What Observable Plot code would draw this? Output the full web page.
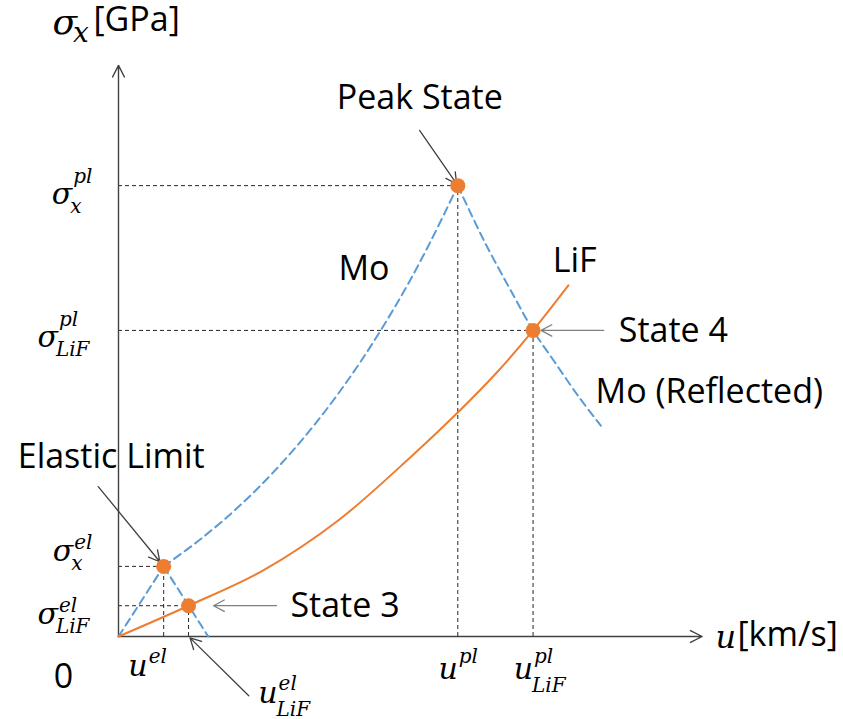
<!DOCTYPE html>
<html>
<head>
<meta charset="utf-8">
<script src="https://cdn.jsdelivr.net/npm/d3@7"></script>
<script src="https://cdn.jsdelivr.net/npm/@observablehq/plot@0.6"></script>
<style>
  body { margin: 0; background: #fff; }
  #chart svg { display: block; overflow: visible; }
</style>
</head>
<body>
<div id="chart"></div>
<script>
// Impedance matching of a Mo sample against a LiF window in the (u, σx) plane.
// Units are schematic: both axes run 0–10.

// Mo Hugoniot: elastic ramp, then plastic branch up to the peak state
const moElasticU = [0, 0.78];
const moElasticS = [0, 1.23];
const moLoadU = [0.78, 1.42, 2.11, 2.80, 3.49, 4.18, 4.87, 5.39, 5.86];
const moLoadS = [1.23, 1.71, 2.31, 3.02, 3.85, 4.82, 5.95, 6.93, 7.91];
// Release from the elastic limit
const moReleaseU = [0.78, 1.55];
const moReleaseS = [1.23, 0];
// Mo curve reflected about the peak state
const moReflectedU = [5.86, 6.32, 6.84, 7.16, 7.53, 7.96, 8.33];
const moReflectedS = [7.91, 6.93, 5.95, 5.37, 4.82, 4.19, 3.70];
// LiF Hugoniot
const lifU = [0, 1.21, 2.50, 3.80, 5.09, 5.86, 6.55, 7.16, 7.77];
const lifS = [0, 0.54, 1.16, 2.04, 3.19, 3.93, 4.65, 5.37, 6.16];

// Marked states
const stateNames = ["Elastic Limit", "State 3", "Peak State", "State 4"];
const stateU = [0.78, 1.21, 5.86, 7.16];
const stateS = [1.23, 0.54, 7.91, 5.37];

// Tick labels at each state (σ on the vertical axis, u on the horizontal axis)
const sigmaSup = ["el", "el", "pl", "pl"];
const sigmaSub = ["x", "LiF", "x", "LiF"];
const uSup = ["el", "el", "pl", "pl"];
const uSub = ["", "LiF", "", "LiF"];

// Free text labels
const labelText = ["Peak State", "Mo", "LiF", "State 4", "Mo (Reflected)", "Elastic Limit", "State 3", "0"];
const labelU = [3.77, 3.80, 7.50, 8.64, 8.24, -1.74, 2.97, -1.12];
const labelS = [9.26, 6.26, 6.39, 5.16, 4.09, 2.95, 0.35, -0.91];

// Callout arrows: start point of each arrow, pointing at the matching state
const calloutU = [-0.35, 2.73, 5.20, 8.38];
const calloutS = [2.63, 0.54, 8.88, 5.37];

// ---------------------------------------------------------------------------
const W = 843, H = 719;
const M = {top: 66, right: 146, bottom: 83, left: 118};
const BLUE = "#5B9BD5", ORANGE = "#ED7D31", AXIS = "#404040";
const SANS = "Open Sans", MATH = "DejaVu Serif";

const xs = Plot.scale({x: {domain: [0, 10], range: [M.left, W - M.right]}});
const ys = Plot.scale({y: {domain: [0, 10], range: [H - M.bottom, M.top]}});

const pts = (U, S) => U.map((u, i) => ({u, s: S[i]}));
const states = stateNames.map((name, i) => ({name, u: stateU[i], s: stateS[i]}));

// text measurement for composing sub/superscripts
const ctx = document.createElement("canvas").getContext("2d");
function measure(str, size, style = "italic") {
  ctx.font = `${style} ${size}px "${MATH}"`;
  return ctx.measureText(str).width;
}

// Lay out base + superscript + subscript as three text records (in data units)
function composeMath(items, o) {
  const base = [], sup = [], sub = [];
  for (const it of items) {
    const wb = measure(it.base, o.baseSize);
    const wsup = it.sup ? measure(it.sup, o.scriptSize) : 0;
    const wsub = it.sub ? measure(it.sub, o.scriptSize) : 0;
    const total = wb + Math.max(wsup, wsub);
    const x0 = it.align === "end" ? it.px - total
             : it.align === "baseEnd" ? it.px - wb
             : it.px;
    const xScript = x0 + wb + o.gap;
    base.push({x: xs.invert(x0), y: ys.invert(it.py), text: it.base});
    if (it.sup) {
      const rise = /[pqgyj]/.test(it.sup) ? o.riseDesc : o.rise;
      sup.push({x: xs.invert(xScript), y: ys.invert(it.py - rise), text: it.sup});
    }
    if (it.sub) sub.push({x: xs.invert(xScript - o.subKern), y: ys.invert(it.py + o.drop), text: it.sub});
  }
  const t = {x: "x", y: "y", text: "text", textAnchor: "start", lineAnchor: "bottom",
             fontFamily: MATH, fontStyle: "italic", fill: "#000"};
  return [
    Plot.text(base, {...t, fontSize: o.baseSize}),
    Plot.text(sup, {...t, fontSize: o.scriptSize}),
    Plot.text(sub, {...t, fontSize: o.scriptSize})
  ];
}

// σ tick labels, right-aligned left of the axis
const sigmaNudge = [-5, 18, 18, 17];
const sigmaItems = states.map((d, i) => ({
  px: xs.apply(0) - 27, py: ys.apply(d.s) + sigmaNudge[i],
  base: "σ", sup: sigmaSup[i], sub: sigmaSub[i], align: "end"
}));

// u tick labels under the axis
const uNudgeX = [-16, 89, 0, 0];
const uNudgeY = [39, 66, 42, 42];
const uItems = states.map((d, i) => ({
  px: xs.apply(d.u) + uNudgeX[i], py: ys.apply(0) + uNudgeY[i],
  base: "u", sup: uSup[i], sub: uSub[i], align: "baseEnd"
}));

// axis titles
const titleItems = [{px: 52, py: 33, base: "σ", sub: "x", align: "start"}];
const uTitleItems = [{px: 715, py: 647, base: "u", align: "start"}];

const callouts = states.map((d, i) => ({x1: calloutU[i], y1: calloutS[i], x2: d.u, y2: d.s}));
const calloutInset = [6, 25, 2, 8];
const calloutColor = [AXIS, "#7F7F7F", AXIS, "#7F7F7F"];

const axes = [{x1: 0, y1: 0, x2: 10.08, y2: 0}, {x1: 0, y1: 0, x2: 0, y2: 10.02}];
const labels = labelText.map((text, i) => ({text, u: labelU[i], s: labelS[i]}));
const axisWords = [
  {text: "[GPa]", x: xs.invert(93), y: ys.invert(30)},
  {text: "[km/s]", x: xs.invert(737), y: ys.invert(645)}
];

const dashBlue = {x: "u", y: "s", stroke: BLUE, strokeWidth: 2, strokeDasharray: "8,5"};

const chart = Plot.plot({
  width: W, height: H,
  marginTop: M.top, marginRight: M.right, marginBottom: M.bottom, marginLeft: M.left,
  x: {domain: [0, 10], axis: null},
  y: {domain: [0, 10], axis: null},
  style: {background: "#fff", overflow: "visible"},
  marks: [
    // guide lines from each state to the axes
    Plot.ruleY(states, {y: "s", x1: () => 0, x2: "u", stroke: "#262626", strokeWidth: 1, strokeDasharray: "4,3"}),
    Plot.ruleX(states, {x: "u", y1: () => 0, y2: "s", stroke: "#262626", strokeWidth: 1, strokeDasharray: "4,3"}),
    // axes with open arrowheads
    Plot.arrow(axes, {x1: "x1", y1: "y1", x2: "x2", y2: "y2", stroke: AXIS, strokeWidth: 1.4, headAngle: 54, headLength: 14}),
    // Mo curves
    Plot.line(pts(moElasticU, moElasticS), dashBlue),
    Plot.line(pts(moReleaseU, moReleaseS), dashBlue),
    Plot.line(pts(moLoadU, moLoadS), {...dashBlue, curve: "catmull-rom"}),
    Plot.line(pts(moReflectedU, moReflectedS), {...dashBlue, curve: "catmull-rom"}),
    // LiF curve
    Plot.line(pts(lifU, lifS), {x: "u", y: "s", stroke: ORANGE, strokeWidth: 2, curve: "catmull-rom"}),
    // callouts
    ...callouts.map((c, i) => Plot.arrow([c], {
      x1: "x1", y1: "y1", x2: "x2", y2: "y2", insetEnd: calloutInset[i],
      stroke: calloutColor[i], strokeWidth: 1.3, headAngle: 56, headLength: 14
    })),
    Plot.arrow([{x1: 2.25, y1: -1.04, x2: stateU[1], y2: 0}], {
      x1: "x1", y1: "y1", x2: "x2", y2: "y2", insetEnd: 2,
      stroke: AXIS, strokeWidth: 1.3, headAngle: 56, headLength: 14
    }),
    // states
    Plot.dot(states, {x: "u", y: "s", r: 7.5, fill: ORANGE, stroke: "none"}),
    // labels
    Plot.text(labels, {x: "u", y: "s", text: "text", textAnchor: "start", lineAnchor: "bottom",
                       fontFamily: SANS, fontSize: 34, fill: "#000"}),
    Plot.text(axisWords, {x: "x", y: "y", text: "text", textAnchor: "start", lineAnchor: "bottom",
                          fontFamily: SANS, fontSize: 34, fill: "#000"}),
    ...composeMath(sigmaItems, {baseSize: 30, scriptSize: 20, gap: 1, rise: 12, riseDesc: 21, drop: 9, subKern: 3}),
    ...composeMath(uItems, {baseSize: 30, scriptSize: 20, gap: 1, rise: 13, riseDesc: 16, drop: 13, subKern: 2}),
    ...composeMath(titleItems, {baseSize: 36, scriptSize: 28, gap: -2, rise: 12, riseDesc: 12, drop: 8, subKern: 2}),
    ...composeMath(uTitleItems, {baseSize: 32, scriptSize: 20, gap: 0, rise: 12, riseDesc: 12, drop: 8, subKern: 0})
  ]
});

document.getElementById("chart").appendChild(chart);
</script>
</body>
</html>
